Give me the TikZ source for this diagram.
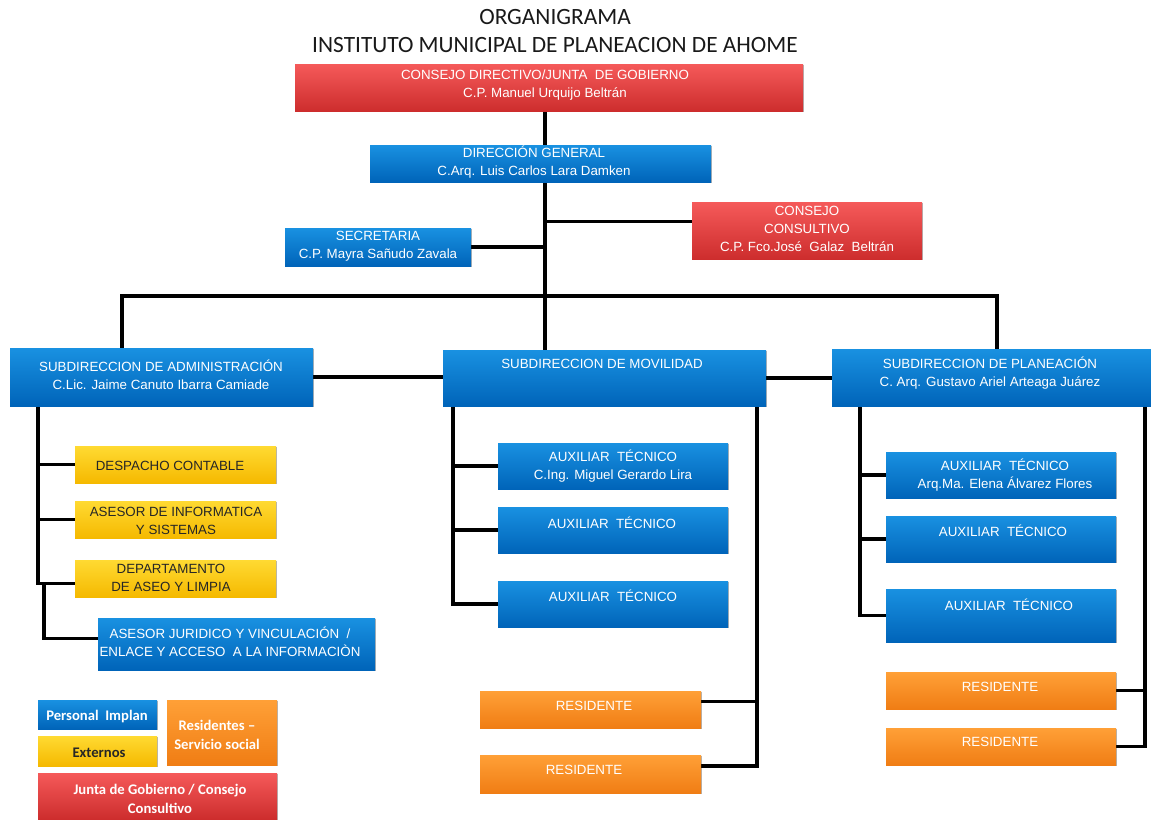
\documentclass[tikz,border=0pt]{standalone}
\usepackage{fontspec}
\setmainfont{Liberation Sans}
\newfontfamily\carlito{Carlito}
\usetikzlibrary{shadows,calc}
\pgfdeclarelayer{bg}
\pgfsetlayers{bg,main}
\definecolor{redtop}{RGB}{245,90,90}
\definecolor{redbot}{RGB}{205,45,45}
\definecolor{bluetop}{RGB}{25,145,225}
\definecolor{bluebot}{RGB}{0,100,185}
\definecolor{yeltop}{RGB}{255,218,50}
\definecolor{yelbot}{RGB}{245,185,0}
\definecolor{orgtop}{RGB}{255,160,55}
\definecolor{orgbot}{RGB}{240,125,20}
\definecolor{titlec}{RGB}{25,25,25}
\tikzset{
  box/.style={rectangle, inner sep=0pt, outer sep=0pt, draw=none,
    drop shadow={shadow xshift=0.9pt, shadow yshift=-0.9pt, opacity=0.3, fill=black}},
  redbox/.style={box, top color=redtop, bottom color=redbot},
  bluebox/.style={box, top color=bluetop, bottom color=bluebot},
  yelbox/.style={box, top color=yeltop, bottom color=yelbot},
  orgbox/.style={box, top color=orgtop, bottom color=orgbot},
  txt/.style={inner sep=0pt, align=center, text=white, font=\fontsize{10}{13.5}\selectfont},
  dtxt/.style={txt, text=black!85},
  ltxt/.style={inner sep=0pt, align=center, text=white, font=\carlito\bfseries\fontsize{11}{14}\selectfont},
  ldtxt/.style={ltxt, text=black!85},
  ttl/.style={inner sep=0pt, align=center, text=titlec, font=\carlito\fontsize{17.5}{20}\selectfont},
  conn/.style={line width=2.4pt, black, line join=miter},
}
\newcommand\bx[6]{\node[#1, minimum width={(#5-#3)*0.75pt}, minimum height={(#6-#4)*0.75pt}] (#2) at ({(#3+#5)/2},{(#4+#6)/2}) {};}
\begin{document}
\begin{tikzpicture}[x=0.75pt,y=-0.75pt]
\useasboundingbox (0,0) rectangle (1151,819);
% title
\node[ttl] (title1) at (555,17) {ORGANIGRAMA};
\node[ttl] (title2) at (555,45) {INSTITUTO MUNICIPAL DE PLANEACION DE AHOME};
% boxes
\bx{redbox}{cd}{295}{64}{803}{111}
\bx{bluebox}{dg}{370}{145}{711}{182}
\bx{redbox}{cc}{692}{202}{922}{259}
\bx{bluebox}{sec}{285}{228}{471}{266}
\bx{bluebox}{adm}{10}{348}{313}{406}
\bx{bluebox}{mov}{443}{350}{766}{406}
\bx{bluebox}{pla}{832}{349}{1151}{406}
\bx{yelbox}{des}{75}{446}{276}{483}
\bx{yelbox}{inf}{75}{501}{276}{538}
\bx{yelbox}{ase}{75}{560}{276}{597}
\bx{bluebox}{jur}{98}{618}{375}{670}
\bx{bluebox}{ma1}{498}{443}{728}{489}
\bx{bluebox}{ma2}{498}{507}{728}{553}
\bx{bluebox}{ma3}{498}{581}{728}{627}
\bx{orgbox}{mr1}{480}{691}{701}{728}
\bx{orgbox}{mr2}{480}{755}{701}{793}
\bx{bluebox}{pa1}{886}{452}{1116}{498}
\bx{bluebox}{pa2}{886}{516}{1116}{562}
\bx{bluebox}{pa3}{886}{589}{1116}{642}
\bx{orgbox}{pr1}{886}{672}{1116}{709}
\bx{orgbox}{pr2}{886}{728}{1116}{765}
\bx{bluebox}{lg1}{38}{700}{157}{729}
\bx{yelbox}{lg2}{38}{736}{157}{766}
\bx{orgbox}{lg3}{167}{700}{277}{765}
\bx{redbox}{lg4}{38}{773}{277}{819}
% texts
\node[txt] (t-cd) at (545,85) {CONSEJO DIRECTIVO/JUNTA\ \ DE GOBIERNO\\C.P. Manuel Urquijo Beltrán};
\node[txt] (t-dg) at (534,162) {DIRECCIÓN GENERAL\\C.Arq. Luis Carlos Lara Damken};
\node[txt] (t-cc) at (807,229) {CONSEJO\\CONSULTIVO\\C.P. Fco.José\ \ Galaz\ \ Beltrán};
\node[txt] (t-sec) at (378,246) {SECRETARIA\\C.P. Mayra Sañudo Zavala};
\node[txt] (t-adm) at (161,375) {SUBDIRECCION DE ADMINISTRACIÓN\\C.Lic. Jaime Canuto Ibarra Camiade};
\node[txt] (t-mov) at (602,364) {SUBDIRECCION DE MOVILIDAD};
\node[txt] (t-pla) at (990,373) {SUBDIRECCION DE PLANEACIÓN\\C. Arq. Gustavo Ariel Arteaga Juárez};
\node[dtxt] (t-des) at (170,466) {DESPACHO CONTABLE};
\node[dtxt] (t-inf) at (176,521) {ASESOR DE INFORMATICA\\Y SISTEMAS};
\node[dtxt] (t-ase) at (171,578) {DEPARTAMENTO\\DE ASEO Y LIMPIA};
\node[txt] (t-jur) at (230,642) {ASESOR JURIDICO Y VINCULACIÓN\ \ /\\ENLACE Y ACCESO\ \ A LA INFORMACIÒN};
\node[txt] (t-ma1) at (613,466) {AUXILIAR\ \ TÉCNICO\\C.Ing. Miguel Gerardo Lira};
\node[txt] (t-ma2) at (612,523) {AUXILIAR\ \ TÉCNICO};
\node[txt] (t-ma3) at (613,596) {AUXILIAR\ \ TÉCNICO};
\node[txt] (t-mr1) at (594,706) {RESIDENTE};
\node[txt] (t-mr2) at (584,770) {RESIDENTE};
\node[txt] (t-pa1) at (1005,475) {AUXILIAR\ \ TÉCNICO\\Arq.Ma. Elena Álvarez Flores};
\node[txt] (t-pa2) at (1003,531) {AUXILIAR\ \ TÉCNICO};
\node[txt] (t-pa3) at (1009,605) {AUXILIAR\ \ TÉCNICO};
\node[txt] (t-pr1) at (1000,687) {RESIDENTE};
\node[txt] (t-pr2) at (1000,742) {RESIDENTE};
\node[ltxt] (t-lg1) at (97,716) {Personal\ \ Implan};
\node[ldtxt] (t-lg2) at (99,753) {Externos};
\node[ltxt] (t-lg3) at (217,735) {Residentes –\\Servicio social};
\node[ltxt] (t-lg4) at (160,799) {Junta de Gobierno / Consejo\\Consultivo};
% connector coordinates
\coordinate (busC) at (545,296);
\coordinate (busL) at (122,296);
\coordinate (busR) at (997,296);
\coordinate (aV) at (38,400);
\coordinate (aV2) at (44,400);
\coordinate (mL) at (453,400);
\coordinate (mR) at (757,400);
\coordinate (pL) at (860,400);
\coordinate (pR) at (1145,400);
\begin{pgfonlayer}{bg}
\draw[conn] (cd.south -| busC) -- (busC);
\draw[conn] (adm.north -| busL) |- (busR) -- (pla.north -| busR);
\draw[conn] (busC) -- (mov.north -| busC);
\draw[conn] (sec.east) -| (busC);
\draw[conn] ([yshift=7pt]cc.west) -| (busC);
\draw[conn] (adm.east) -- (adm.east -| mov.west);
\draw[conn] (mov.east) -- (mov.east -| pla.west);
% administracion
\draw[conn] (adm.south -| aV) |- ([yshift=-4pt]ase.west);
\draw[conn] (des.west -| aV) -- (des.west);
\draw[conn] (inf.west -| aV) -- (inf.west);
\draw[conn] ([yshift=-4pt]ase.west -| aV2) |- ([yshift=4pt]jur.west);
% movilidad
\draw[conn] (mov.south -| mL) |- (ma3.west);
\draw[conn] (ma1.west -| mL) -- (ma1.west);
\draw[conn] (ma2.west -| mL) -- (ma2.west);
\draw[conn] (mov.south -| mR) |- ([yshift=6pt]mr2.east);
\draw[conn] ([yshift=6pt]mr1.east) -- ([yshift=6pt]mr1.east -| mR);
% planeacion
\draw[conn] (pla.south -| pL) |- (pa3.west);
\draw[conn] (pa1.west -| pL) -- (pa1.west);
\draw[conn] (pa2.west -| pL) -- (pa2.west);
\draw[conn] (pla.south -| pR) |- (pr2.east);
\draw[conn] (pr1.east) -- (pr1.east -| pR);
\end{pgfonlayer}
\end{tikzpicture}
\end{document}
